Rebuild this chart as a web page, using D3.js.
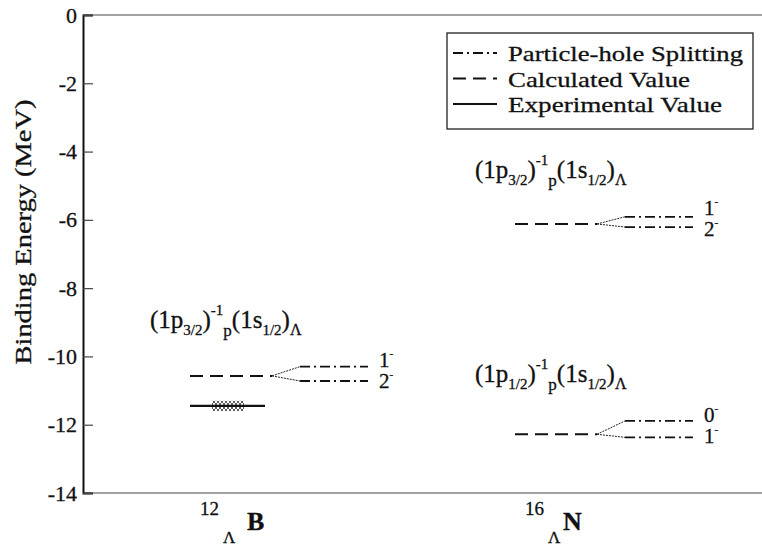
<!DOCTYPE html>
<html>
<head>
<meta charset="utf-8">
<script src="https://cdn.jsdelivr.net/npm/d3@7"></script>
<style>
  html, body { margin: 0; padding: 0; background: #fff; }
  svg { display: block; }
  svg text { font-family: "Liberation Serif", "Times New Roman", Times, serif; stroke: #111; stroke-width: 0.3px; }
</style>
</head>
<body>
<svg id="chart" width="762" height="547"></svg>
<script>
// Hypernuclei shown along the x axis
const nuclei = ["12B", "16N"];
const massNumbers = ["12", "16"];
const elements = ["B", "N"];

// Particle-hole configurations: which nucleus, proton hole orbit
const configNucleus = [0, 1, 1];
const configHole = ["3/2", "3/2", "1/2"];
// Calculated (unsplit) binding energy of each configuration, MeV
const calcEnergy = [-10.57, -6.12, -12.28];
// Particle-hole split doublet members, MeV
const upperEnergy = [-10.30, -5.91, -11.89];
const lowerEnergy = [-10.72, -6.21, -12.37];
const upperSpin = ["1", "1", "0"];
const lowerSpin = ["2", "2", "1"];

// Experimental level with its uncertainty, MeV
const expNucleus = [0];
const expEnergy = [-11.45];
const expError = [0.15];

// Energy axis
const yTicks = [0, -2, -4, -6, -8, -10, -12, -14];
const yDomain = [0, -14];

const legendLabels = ["Particle-hole Splitting", "Calculated Value", "Experimental Value"];

const svg = d3.select("#chart");
const plotLeft = 83, plotRight = 762, plotTop = 15, plotBottom = 493;

const y = d3.scaleLinear().domain(yDomain).range([plotTop, plotBottom]);
const x = d3.scalePoint().domain(nuclei).range([190, 515]);

const ink = "#111";
const DASH_CALC = "13,7";
const DASH_PH = "10,4,2,4";

// level geometry relative to each nucleus' column
const calcLen = 82, fanEnd = 110, phEnd = 178, spinX = 189;

// pattern for the experimental uncertainty band
const defs = svg.append("defs");
const pat = defs.append("pattern").attr("id", "hatch")
  .attr("patternUnits", "userSpaceOnUse").attr("width", 4).attr("height", 4);
pat.append("path").attr("d", "M0,4 L4,0 M0,0 L4,4")
  .attr("stroke", "#333").attr("stroke-width", 0.8);

// frame: top and bottom lines, left axis
svg.append("line").attr("x1", plotLeft).attr("x2", plotRight).attr("y1", plotTop).attr("y2", plotTop)
  .attr("stroke", "#444").attr("stroke-width", 1.2);
svg.append("line").attr("x1", plotLeft).attr("x2", plotRight).attr("y1", plotBottom).attr("y2", plotBottom)
  .attr("stroke", "#444").attr("stroke-width", 1.2);

const yAxis = svg.append("g").attr("transform", `translate(${plotLeft},0)`)
  .call(d3.axisLeft(y).tickValues(yTicks).tickSize(-10).tickPadding(6)
    .tickFormat(d => d === 0 ? "0" : "-" + Math.abs(d)));
yAxis.attr("font-family", null);
yAxis.select(".domain").attr("stroke", ink).attr("stroke-width", 2);
yAxis.selectAll(".tick line").attr("stroke", "#444").attr("stroke-width", 1.2);
yAxis.selectAll(".tick text").attr("font-size", 22).attr("fill", ink);

// y axis title
svg.append("text")
  .attr("transform", `translate(31,232) rotate(-90)`)
  .attr("text-anchor", "middle").attr("font-size", 23).attr("fill", ink)
  .attr("textLength", 265).attr("lengthAdjust", "spacingAndGlyphs")
  .text("Binding Energy (MeV)");

// x category labels: superscript mass number, subscript Lambda, element
nuclei.forEach((n, i) => {
  const cx = x(n);
  const g = svg.append("g").attr("fill", ink);
  g.append("text").attr("x", cx + 10).attr("y", 515).attr("font-size", 19).text(massNumbers[i]);
  g.append("text").attr("x", cx + 33).attr("y", 543).attr("font-size", 17).text("\u039B");
  g.append("text").attr("x", cx + (i === 0 ? 57 : 48)).attr("y", 530)
    .attr("font-size", 26).attr("font-weight", "bold").text(elements[i]);
});

// configuration levels
const cfg = configNucleus.map((ni, i) => ({
  x0: x(nuclei[ni]), hole: configHole[i],
  calc: calcEnergy[i], up: upperEnergy[i], low: lowerEnergy[i],
  sUp: upperSpin[i], sLow: lowerSpin[i]
}));

const lv = svg.append("g");
cfg.forEach(c => {
  // calculated value
  lv.append("line").attr("x1", c.x0).attr("x2", c.x0 + calcLen)
    .attr("y1", y(c.calc)).attr("y2", y(c.calc))
    .attr("stroke", ink).attr("stroke-width", 2).attr("stroke-dasharray", DASH_CALC);
  // fan into the doublet
  [c.up, c.low].forEach(e => {
    lv.append("line").attr("x1", c.x0 + calcLen).attr("x2", c.x0 + fanEnd)
      .attr("y1", y(c.calc)).attr("y2", y(e))
      .attr("stroke", "#222").attr("stroke-width", 1).attr("stroke-dasharray", "2,1");
    lv.append("line").attr("x1", c.x0 + fanEnd).attr("x2", c.x0 + phEnd)
      .attr("y1", y(e)).attr("y2", y(e))
      .attr("stroke", ink).attr("stroke-width", 1.8).attr("stroke-dasharray", DASH_PH);
  });
  // spin-parity labels, stacked to the right of the doublet
  const mid = (y(c.up) + y(c.low)) / 2;
  [[c.sUp, mid - 7], [c.sLow, mid + 14]].forEach(([s, by]) => {
    const t = lv.append("text").attr("x", c.x0 + spinX).attr("y", by)
      .attr("font-size", 21).attr("fill", ink);
    t.append("tspan").text(s);
    t.append("tspan").attr("dy", -10).attr("font-size", 11).text("-");
  });
  // configuration label (1p_j)^-1_p (1s_1/2)_Lambda
  const t = lv.append("text").attr("x", c.x0 - 40).attr("y", y(c.up) - 39)
    .attr("font-size", 25).attr("fill", ink);
  t.append("tspan").text("(1p");
  t.append("tspan").attr("font-size", 15).attr("dy", 7).text(c.hole);
  t.append("tspan").attr("dy", -7).text(")");
  t.append("tspan").attr("font-size", 15).attr("dy", -13).text("-1");
  t.append("tspan").attr("font-size", 17).attr("dy", 21).text("p");
  t.append("tspan").attr("dy", -8).text("(1s");
  t.append("tspan").attr("font-size", 15).attr("dy", 7).text("1/2");
  t.append("tspan").attr("dy", -7).text(")");
  t.append("tspan").attr("font-size", 16).attr("dy", 7).text("\u039B");
});

// experimental level
expNucleus.forEach((ni, i) => {
  const x0 = x(nuclei[ni]);
  lv.append("rect").attr("x", x0 + 22).attr("width", 32)
    .attr("y", y(expEnergy[i] + expError[i]))
    .attr("height", y(expEnergy[i] - expError[i]) - y(expEnergy[i] + expError[i]))
    .attr("fill", "url(#hatch)");
  lv.append("line").attr("x1", x0).attr("x2", x0 + 75)
    .attr("y1", y(expEnergy[i])).attr("y2", y(expEnergy[i]))
    .attr("stroke", ink).attr("stroke-width", 2.2);
});

// legend
const lg = svg.append("g");
lg.append("rect").attr("x", 447).attr("y", 33).attr("width", 306).attr("height", 96)
  .attr("fill", "#fff").attr("stroke", "#222").attr("stroke-width", 1.3);
const legendDash = [DASH_PH, DASH_CALC, null];
const legendWidths = [235, 182, 214];
legendLabels.forEach((lab, i) => {
  const ry = 53 + i * 25.5;
  lg.append("line").attr("x1", 453).attr("x2", 497).attr("y1", ry).attr("y2", ry)
    .attr("stroke", ink).attr("stroke-width", 1.8)
    .attr("stroke-dasharray", legendDash[i]);
  lg.append("text").attr("x", 508).attr("y", ry + 8).attr("font-size", 22).attr("fill", ink)
    .attr("textLength", legendWidths[i]).attr("lengthAdjust", "spacingAndGlyphs")
    .text(lab);
});
</script>
</body>
</html>
